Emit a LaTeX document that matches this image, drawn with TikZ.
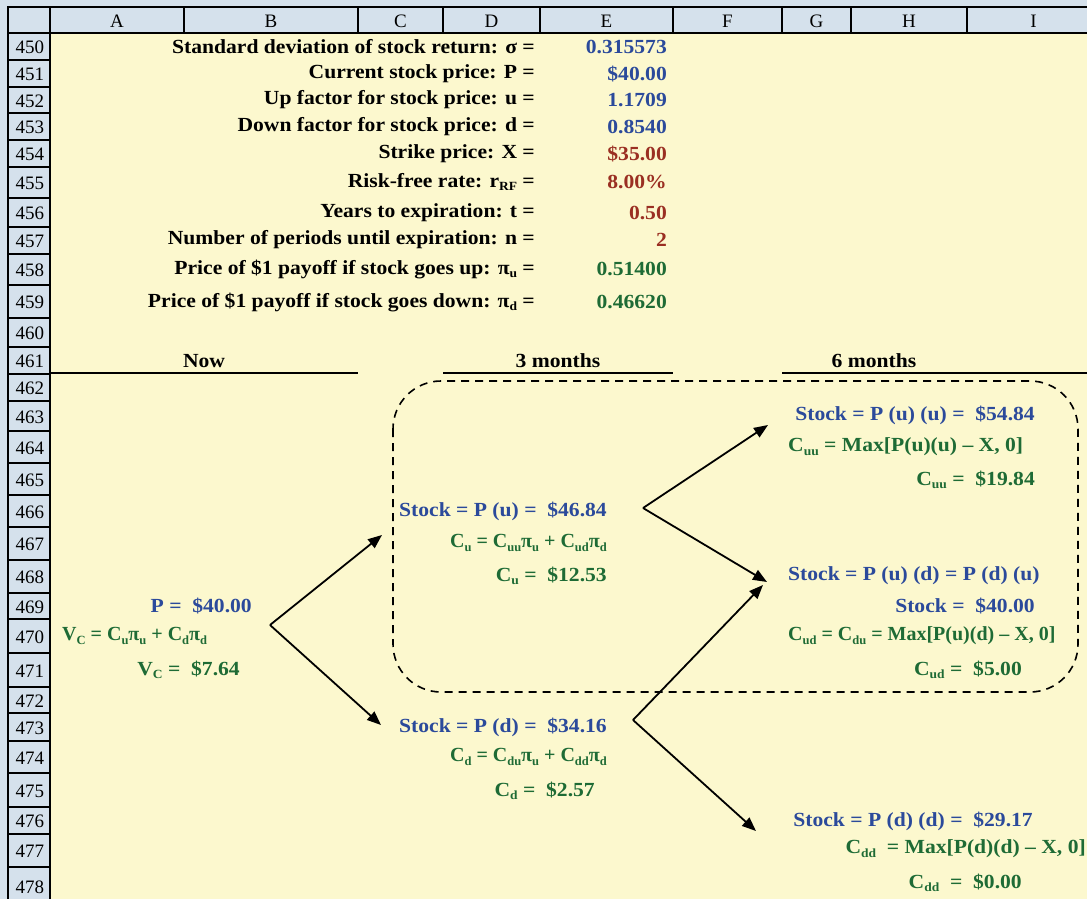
\documentclass[tikz,border=0pt]{standalone}
\usepackage{fontspec}
\setmainfont{Liberation Serif}[FakeStretch=1.08]
\newfontfamily\gridfont{Liberation Serif}
\newfontfamily\formfont{Liberation Serif}[FakeStretch=1.0]
\usetikzlibrary{arrows.meta}

\definecolor{sheetblue}{HTML}{D5E1EC}
\definecolor{cellyellow}{HTML}{FCF8CE}
\definecolor{inblue}{HTML}{2B4A9B}
\definecolor{ingreen}{HTML}{1E6B35}
\definecolor{inred}{HTML}{9A2F22}

% small lowered letters after C, V, r and pi
\newcommand{\subs}[1]{\raisebox{-3.5pt}{\fontsize{12.5}{13}\selectfont #1}}

\tikzset{
  hdr/.style={inner sep=0pt, font=\gridfont\fontsize{19}{22}\selectfont},
  lbl/.style={anchor=east, inner sep=0pt, font=\fontsize{20}{23}\selectfont\bfseries},
  lblw/.style={lbl, anchor=west},
  formula/.style={font=\formfont\fontsize{20}{23}\selectfont\bfseries},
  cellline/.style={line width=2.6pt},
  move/.style={line width=1.8pt, -{Triangle[length=14pt,width=11pt]}}
}

\begin{document}
\begin{tikzpicture}[x=1pt, y=-1pt]
    \useasboundingbox (0,0) rectangle (1087,899);
    \fill[sheetblue] (0,0) rectangle (1087,899);
    \fill[cellyellow] (50,33) rectangle (1087,899);

    % column headers
    \filldraw[fill=sheetblue, cellline] (8,7) rectangle (50,33);
    \foreach \c/\l/\r in {A/50/184, B/184/358, C/358/443, D/443/540,
                          E/540/673, F/673/782, G/782/851, H/851/967, I/967/1100} {
      \filldraw[fill=sheetblue, cellline] (\l,7) rectangle (\r,33);
      \node[hdr] (col\c) at ({(\l+\r)/2},21) {\c};
    }

    % row headers
    \foreach \n/\t/\b in {450/33/60, 451/60/87, 452/87/113, 453/113/140,
                          454/140/167, 455/167/198, 456/198/227, 457/227/254,
                          458/254/285, 459/285/318, 460/318/347, 461/347/374,
                          462/374/401, 463/401/431, 464/431/463, 465/463/495,
                          466/495/527, 467/527/560, 468/560/593, 469/593/619,
                          470/619/653, 471/653/687, 472/687/713, 473/713/741,
                          474/741/773, 475/773/807, 476/807/834, 477/834/867,
                          478/867/905} {
      \filldraw[fill=sheetblue, cellline] (8,\t) rectangle (50,\b);
      \node[hdr] (row\n) at (30,{(\t+\b)/2+1}) {\n};
    }

    % inputs
    \node[lbl] (sigmalbl) at (535,47) {Standard deviation of stock return: σ =};
    \node[lbl, inblue] (sigma) at (667,47) {0.315573};
    \node[lbl] (plbl) at (535,74) {Current stock price: P =};
    \node[lbl, inblue] (p) at (667,74) {\$40.00};
    \node[lbl] (ulbl) at (535,100) {Up factor for stock price: u =};
    \node[lbl, inblue] (u) at (667,100) {1.1709};
    \node[lbl] (dlbl) at (535,127) {Down factor for stock price: d =};
    \node[lbl, inblue] (d) at (667,127) {0.8540};
    \node[lbl] (xlbl) at (535,154) {Strike price: X =};
    \node[lbl, inred] (x) at (667,154) {\$35.00};
    \node[lbl] (rlbl) at (535,182) {Risk-free rate: r\subs{RF} =};
    \node[lbl, inred] (r) at (667,182) {8.00\%};
    \node[lbl] (tlbl) at (535,213) {Years to expiration: t =};
    \node[lbl, inred] (t) at (667,213) {0.50};
    \node[lbl] (nlbl) at (535,240) {Number of periods until expiration: n =};
    \node[lbl, inred] (n) at (667,240) {2};
    \node[lbl] (pulbl) at (535,269) {Price of \$1 payoff if stock goes up: π\subs{u} =};
    \node[lbl, ingreen] (pu) at (667,269) {0.51400};
    \node[lbl] (pdlbl) at (535,302) {Price of \$1 payoff if stock goes down: π\subs{d} =};
    \node[lbl, ingreen] (pd) at (667,302) {0.46620};

    % period headings
    \node[lbl, anchor=center] (now) at (204,361) {Now};
    \node[lbl, anchor=center] (three) at (558,361) {3 months};
    \node[lbl, anchor=center] (six) at (874,361) {6 months};
    \draw[cellline] (50,373) -- (358,373);
    \draw[cellline] (443,373) -- (673,373);
    \draw[cellline] (782,373) -- (1100,373);

    % the upper branch
    \draw[line width=1.6pt, dash pattern=on 8pt off 6pt, rounded corners=48pt]
      (393,381) rectangle (1078,692);

    % today
    \node[lbl, inblue] (p0) at (252,606) {P =\ \ \$40.00};
    \node[lblw, formula, ingreen] (vcf) at (62,636) {V\subs{C} = C\subs{u}π\subs{u} + C\subs{d}π\subs{d}};
    \node[lbl, ingreen] (vc) at (240,670) {V\subs{C} =\ \ \$7.64};

    % 3 months
    \node[lbl, inblue] (su) at (607,511) {Stock = P (u) =\ \ \$46.84};
    \node[lbl, formula, ingreen] (cuf) at (607,543) {C\subs{u} = C\subs{uu}π\subs{u} + C\subs{ud}π\subs{d}};
    \node[lbl, ingreen] (cu) at (607,576) {C\subs{u} =\ \ \$12.53};
    \node[lbl, inblue] (sd) at (607,727) {Stock = P (d) =\ \ \$34.16};
    \node[lbl, formula, ingreen] (cdf) at (607,757) {C\subs{d} = C\subs{du}π\subs{u} + C\subs{dd}π\subs{d}};
    \node[lbl, ingreen] (cd) at (595,791) {C\subs{d} =\ \ \$2.57};

    % 6 months
    \node[lbl, inblue] (suu) at (1035,415) {Stock = P (u) (u) =\ \ \$54.84};
    \node[lblw, ingreen] (cuuf) at (788,447) {C\subs{uu} = Max[P(u)(u) – X, 0]};
    \node[lbl, ingreen] (cuu) at (1035,480) {C\subs{uu} =\ \ \$19.84};
    \node[lblw, inblue] (sudf) at (788,576) {Stock = P (u) (d) = P (d) (u)};
    \node[lbl, inblue] (sud) at (1035,606) {Stock =\ \ \$40.00};
    \node[lblw, formula, ingreen] (cudf) at (788,636) {C\subs{ud} = C\subs{du} = Max[P(u)(d) – X, 0]};
    \node[lbl, ingreen] (cud) at (1022,670) {C\subs{ud} =\ \ \$5.00};
    \node[lbl, inblue] (sdd) at (1033,821) {Stock = P (d) (d) =\ \ \$29.17};
    \node[lbl, ingreen] (cddf) at (1086,849) {C\subs{dd}\ \ = Max[P(d)(d) – X, 0]};
    \node[lbl, ingreen] (cdd) at (1022,883) {C\subs{dd}\ \ =\ \ \$0.00};

    % arrows
    \coordinate (fork0) at (270,625);
    \coordinate (tou) at (382,535);
    \coordinate (tod) at (381,725);
    \coordinate (forku) at (643,508);
    \coordinate (touu) at (768,425);
    \coordinate (toud) at (767,582);
    \coordinate (forkd) at (633,720);
    \coordinate (todu) at (763,585);
    \coordinate (todd) at (756,831);
    \draw[move] (fork0) -- (tou);
    \draw[move] (fork0) -- (tod);
    \draw[move] (forku) -- (touu);
    \draw[move] (forku) -- (toud);
    \draw[move] (forkd) -- (todu);
    \draw[move] (forkd) -- (todd);
  \end{tikzpicture}
\end{document}
